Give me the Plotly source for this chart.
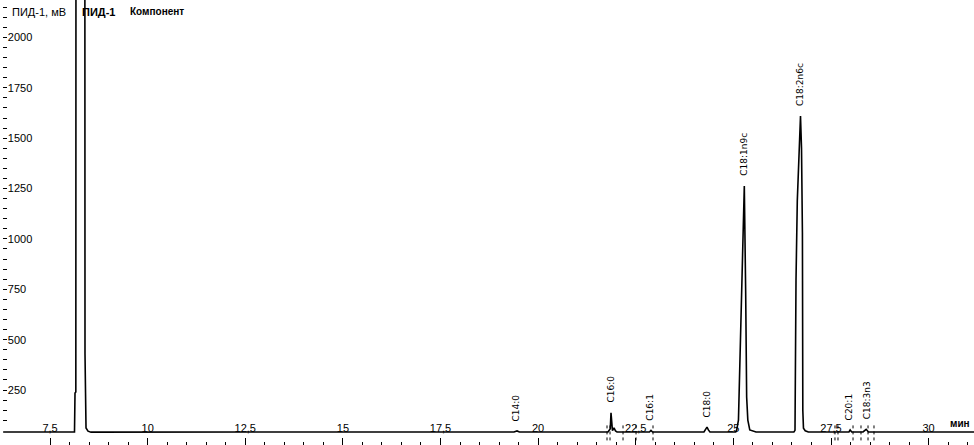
# Хроматограмма ПИД-1: метиловые эфиры жирных кислот

import plotly.graph_objects as go

# Время удерживания, мин и сигнал детектора, мВ
signal_time = [
    6.30, 8.10, 8.127, 8.140, 8.161, 8.173, 8.268, 8.383, 8.396, 8.422, 8.473, 8.550,
    19.38, 19.46, 19.52,
    21.789, 21.848, 21.866, 21.884, 21.904, 21.943, 21.981, 22.020,
    22.85, 22.89, 22.93,
    24.247, 24.285, 24.324, 24.360, 24.400,
    25.060, 25.085, 25.130, 25.170, 25.230, 25.280, 25.315, 25.340, 25.370, 25.420, 25.580,
    26.550, 26.578, 26.604, 26.637, 26.688, 26.719, 26.745, 26.768, 26.778, 26.795, 26.840, 26.920,
    27.96, 27.99, 28.03,
    28.32, 28.40, 28.46,
    31.20,
]
signal_mv = [
    42, 42, 42, 235, 240, 8000, 30000, 8000, 430, 62, 46, 41,
    42, 47, 42,
    42, 58, 137, 58, 48, 62, 47, 42,
    42, 50, 42,
    42, 52, 66, 52, 42,
    42, 52, 101, 434, 980, 1263, 731, 215, 101, 52, 42,
    42, 50, 795, 1190, 1525, 1610, 1450, 1030, 150, 60, 48, 42,
    42, 52, 42,
    42, 55, 42,
    42,
]

# Пики: название, время, высота
peak_names = ["C14:0", "C16:0", "C16:1", "C18:0", "C18:1n9c", "C18:2n6c", "C20:1", "C18:3n3"]
peak_time = [19.43, 21.87, 22.86, 24.32, 25.28, 26.72, 27.96, 28.42]
peak_mv = [46, 137, 50, 66, 1263, 1610, 52, 55]

# Границы интегрирования (пунктир)
bound_time = [21.764, 21.841, 22.174, 22.507, 22.942, 27.602, 27.679, 28.064, 28.268, 28.448, 28.601]
bound_top = 88

y_ticks = [250, 500, 750, 1000, 1250, 1500, 1750, 2000]

bx, by = [], []
for t in bound_time:
    bx += [t, t, None]
    by += [0, bound_top, None]

fig = go.Figure()
fig.add_trace(go.Scatter(x=bx, y=by, mode="lines",
                         line=dict(color="black", width=1, dash="dot"), hoverinfo="skip"))
fig.add_trace(go.Scatter(x=signal_time, y=signal_mv, mode="lines",
                         line=dict(color="black", width=1.6)))

for name, t, v in zip(peak_names, peak_time, peak_mv):
    fig.add_annotation(x=t, y=v, text=name, showarrow=False, textangle=-90,
                       xanchor="center", yanchor="bottom", yshift=8,
                       font=dict(family="DejaVu Sans", size=9, color="black"))

fig.add_annotation(xref="paper", yref="paper", x=0.007, y=1, yshift=-4, text="ПИД-1, мВ",
                   showarrow=False, xanchor="left", yanchor="top",
                   font=dict(family="Liberation Sans", size=11, color="black"))
fig.add_annotation(xref="paper", yref="paper", x=0.079, y=1, yshift=-4, text="<b>ПИД-1</b>",
                   showarrow=False, xanchor="left", yanchor="top",
                   font=dict(family="Liberation Sans", size=11, color="black"))
fig.add_annotation(xref="paper", yref="paper", x=0.129, y=1, yshift=-4, text="<b>Компонент</b>",
                   showarrow=False, xanchor="left", yanchor="top",
                   font=dict(family="Liberation Sans", size=10, color="black"))
fig.add_annotation(xref="paper", yref="y", x=0.998, y=42, yshift=1, text="<b>мин</b>",
                   showarrow=False, xanchor="right", yanchor="bottom",
                   font=dict(family="Liberation Sans", size=10, color="black"))

fig.update_xaxes(range=[6.296, 31.162], tick0=0, dtick=2.5, ticks="inside", ticklen=7,
                 tickcolor="black", ticklabelposition="inside", ticklabelstandoff=3,
                 tickfont=dict(family="Liberation Sans", size=11, color="black"),
                 minor=dict(dtick=0.5, tick0=0, ticks="inside", ticklen=3, tickcolor="black"),
                 showgrid=False, zeroline=False, showline=False)
fig.update_yaxes(range=[-22.8, 2185.6], tickmode="array", tickvals=y_ticks, ticks="inside",
                 ticklen=4, tickcolor="black", ticklabelposition="inside",
                 tickfont=dict(family="Liberation Sans", size=11, color="black"),
                 minor=dict(dtick=50, tick0=0, ticks="inside", ticklen=4, tickcolor="black"),
                 showgrid=False, zeroline=False, showline=False)

fig.update_layout(width=974, height=445, margin=dict(l=3, r=0, t=0, b=0),
                  plot_bgcolor="white", paper_bgcolor="white", showlegend=False,
                  separators=", ")

# убираем отступ body, чтобы график занимал всё окно
fig.write_html("out.html", config={"displayModeBar": False},
               post_script="document.body.style.margin='0';")
